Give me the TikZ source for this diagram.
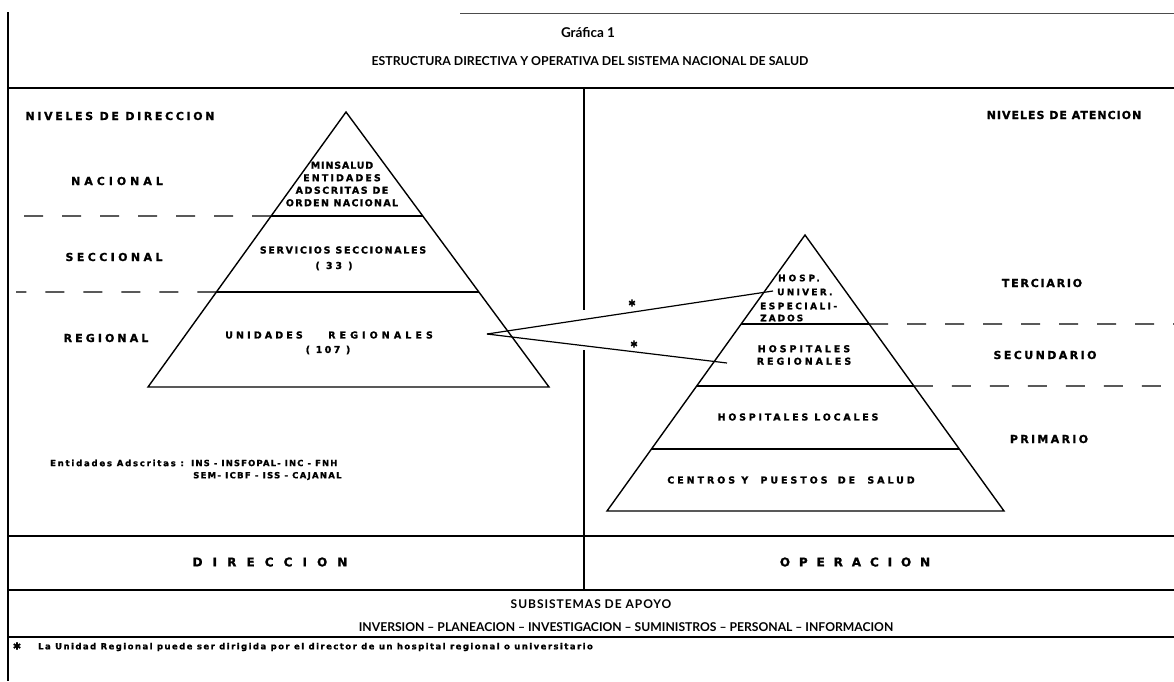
\documentclass[tikz,border=0pt]{standalone}
\usepackage{fontspec}
\setmainfont{Liberation Sans}
\newfontfamily\ttlfont{Lato}
\newfontfamily\dvb[FakeBold=1.2]{DejaVu Sans}
\newcommand\lsp[1]{\addfontfeature{LetterSpace=#1}}
\usetikzlibrary{calc}
\tikzset{
  frameline/.style={line width=1.1pt},
  pyr/.style={line width=1.4pt, line join=miter},
  lvl/.style={line width=1.2pt, dash pattern=on 19pt off 19pt},
  link/.style={line width=1.2pt},
  lbl/.style={font=\dvb\bfseries\fontsize{11}{13}\selectfont\lsp{#1}, inner sep=0pt},
  lbl/.default=25,
  inlbl/.style={font=\dvb\bfseries\fontsize{9.5}{12.5}\selectfont\lsp{#1}, inner sep=0pt, align=center},
  inlbl/.default=25,
  smlbl/.style={font=\dvb\bfseries\fontsize{9}{12}\selectfont\lsp{#1}, inner sep=0pt, anchor=west},
  smlbl/.default=25,
  wide/.style={font=\dvb\bfseries\fontsize{12}{14}\selectfont\lsp{#1}, inner sep=0pt},
  wide/.default=80,
  ttl/.style={font=\ttlfont\bfseries\fontsize{#1}{14}\selectfont, inner sep=0pt},
  note/.style={font=\dvb\bfseries\fontsize{8.5}{10}\selectfont\lsp{#1}, inner sep=0pt, anchor=west},
  note/.default=18,
  ast/.style={font=\dvb\fontsize{9}{10}\selectfont, inner sep=0pt},
}
\begin{document}
\begin{tikzpicture}[x=1pt,y=-1pt]
\useasboundingbox (0,0) rectangle (1174,681);
% frame
\draw[line width=0.6pt, black!70] (460,13) -- (1174,13);
\draw[line width=1.8pt] (8,12) -- (8,681);
\draw[frameline] (8,88) -- (1174,88);
\draw[frameline] (8,536) -- (1174,536);
\draw[frameline] (8,590) -- (1174,590);
\draw[frameline] (8,637) -- (1174,637);
\coordinate (vtop) at (584,88);
\coordinate (vgap1) at (584,310);
\coordinate (vgap2) at (584,350);
\coordinate (vbot) at (584,590);
\draw[line width=1.4pt] (vtop) -- (vgap1);
\draw[line width=1.4pt] (vgap2) -- (vbot);

% titles
\node[ttl=13.5] (graf) at (588,33) {Gráfica 1};
\node[ttl=12.3] (title) at (590,61) {ESTRUCTURA DIRECTIVA Y OPERATIVA DEL SISTEMA NACIONAL DE SALUD};

% left pyramid
\coordinate (apL) at (346,112);
\coordinate (blL) at (148,387);
\coordinate (brL) at (549,387);
\draw[pyr] (apL) -- (blL) -- (brL) -- cycle;
\coordinate (l1a) at ($(apL)!0.378!(blL)$);
\coordinate (l1b) at ($(apL)!0.378!(brL)$);
\coordinate (l2a) at ($(apL)!0.6545!(blL)$);
\coordinate (l2b) at ($(apL)!0.6545!(brL)$);
\draw[pyr] (l1a) -- (l1b);
\draw[pyr] (l2a) -- (l2b);
\coordinate (d1) at (16,216);
\coordinate (d2) at (16,292);
\draw[lvl] (l1a) -- (d1);
\draw[lvl] (l2a) -- (d2);

% right pyramid
\coordinate (apR) at (805,235);
\coordinate (blR) at (607,511);
\coordinate (brR) at (1004,511);
\draw[pyr] (apR) -- (blR) -- (brR) -- cycle;
\coordinate (r1a) at ($(apR)!0.3225!(blR)$);
\coordinate (r1b) at ($(apR)!0.3225!(brR)$);
\coordinate (r2a) at ($(apR)!0.547!(blR)$);
\coordinate (r2b) at ($(apR)!0.547!(brR)$);
\coordinate (r3a) at ($(apR)!0.7754!(blR)$);
\coordinate (r3b) at ($(apR)!0.7754!(brR)$);
\draw[pyr] (r1a) -- (r1b);
\draw[pyr] (r2a) -- (r2b);
\draw[pyr] (r3a) -- (r3b);
\coordinate (e1) at (1174,324);
\coordinate (e2) at (1174,386);
\draw[lvl] (r1b) -- (e1);
\draw[lvl] (r2b) -- (e2);

% side labels
\node[lbl=24] (nivdir) at (120,116) {NIVELES DE DIRECCION};
\node[lbl=36] (nac) at (117,181) {NACIONAL};
\node[lbl=31] (secc) at (114,257) {SECCIONAL};
\node[lbl=28] (reg) at (106,338) {REGIONAL};
\node[lbl=9] (nivat) at (1064,115) {NIVELES DE ATENCION};
\node[lbl=16] (terc) at (1042,283) {TERCIARIO};
\node[lbl=22] (secu) at (1045,355) {SECUNDARIO};
\node[lbl=21] (prim) at (1049,439) {PRIMARIO};

% left pyramid texts
\node[inlbl=14] (minsalud) at (342,184) {{\lsp{9}MINSALUD}\\{\lsp{22}ENTIDADES}\\{\lsp{16}ADSCRITAS DE}\\{\lsp{14}ORDEN NACIONAL}};
\node[inlbl=18] (servicios) at (343,250) {SERVICIOS SECCIONALES};
\node[inlbl=30] (n33) at (334,266) {( 33 )};
\node[inlbl=33, anchor=west] (unid) at (225,335) {UNIDADES};
\node[inlbl=43, anchor=west] (regs) at (328,335) {REGIONALES};
\node[inlbl=25] (n107) at (328,350) {( 107 )};

% right pyramid texts
\node[smlbl=32] (hosp) at (778,278) {HOSP.};
\node[smlbl=25] (univer) at (777,292) {UNIVER.};
\node[smlbl=27] (espec) at (760,306) {ESPECIALI-};
\node[smlbl=22] (zados) at (760,318) {ZADOS};
\node[inlbl=31] (hosreg) at (804,355) {HOSPITALES\\REGIONALES};
\node[inlbl=29] (hosloc) at (798,417) {HOSPITALES LOCALES};
\node[inlbl=31] (centros) at (791,480) {CENTROS Y\hspace{6pt} PUESTOS\hspace{4pt} DE\hspace{6pt} SALUD};

% connectors
\coordinate (ur) at (487,334);
\coordinate (hu) at (773,291);
\coordinate (hr) at (727,363);
\draw[link] (ur) -- (hu);
\draw[link] (ur) -- (hr);
\node[ast] (ast1) at (632,303) {✱};
\node[ast] (ast2) at (634,344) {✱};

% entidades
\node[note=21] (ent) at (50,463) {Entidades Adscritas :};
\node[note=13] (ent1) at (191,463) {INS - INSFOPAL- INC - FNH};
\node[note=15] (ent2) at (193,476) {SEM- ICBF - ISS - CAJANAL};

% bottom bands
\node[wide=84] (dir) at (270,562) {DIRECCION};
\node[wide=74] (oper) at (855,562) {OPERACION};
\node[font=\ttlfont\bfseries\fontsize{12}{14}\selectfont\lsp{8}, inner sep=0pt] (subs) at (591,604) {SUBSISTEMAS DE APOYO};
\node[ttl=12.15] (apoyo) at (626,627) {INVERSION – PLANEACION – INVESTIGACION – SUMINISTROS – PERSONAL – INFORMACION};

% footnote
\node[ast, font=\dvb\fontsize{10}{11}\selectfont] (fast) at (17,646) {✱};
\node[note=17] (foot) at (38,647) {La Unidad Regional puede ser dirigida por el director de un hospital regional o universitario};
\end{tikzpicture}
\end{document}
